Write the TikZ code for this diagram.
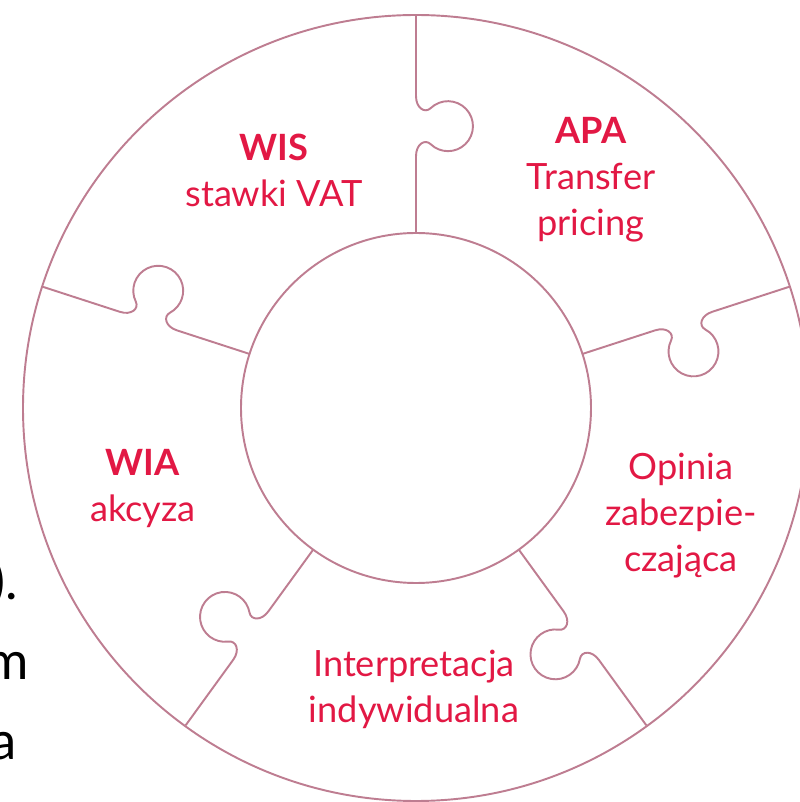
\documentclass[tikz,border=0pt]{standalone}
\usepackage{fontspec}
\setmainfont{Lato}
\definecolor{labelred}{RGB}{226,24,68}
\definecolor{ringline}{RGB}{190,125,145}
\begin{document}
\begin{tikzpicture}[inner sep=0pt,
    ringstyle/.style={draw=ringline, line width=0.55pt},
    labelstyle/.style={text=labelred, align=center, anchor=base,
        font=\fontsize{10.3}{13.1}\selectfont},
    pagestyle/.style={text=black, anchor=base east,
        font=\fontsize{15}{18}\selectfont}]

    \useasboundingbox (0,0) rectangle (8,8.02);
    \coordinate (c) at (4.16,3.94);

    \draw [ringstyle] (c) circle [radius=3.93];
    \draw [ringstyle] (c) circle [radius=1.75];

    \foreach \a in {18,90,162,234,306}
        \draw [ringstyle, shift={(c)}, rotate=\a, scale=0.01]
            (393,0) -- (312,0) .. controls (300,0) and (294.5,-8.9) .. (300,-14.65)
            arc [start angle=43.9, end angle=-223.9, radius=25]
            .. controls (269.5,-8.9) and (264,0) .. (252,0) -- (175,0);

    \node [labelstyle] (wis) at (2.74,5.95) {\textbf{WIS}\\stawki VAT};
    \node [labelstyle] (apa) at (5.91,5.66) {\textbf{APA}\\Transfer\\pricing};
    \node [labelstyle] (wia) at (1.43,2.80) {\textbf{WIA}\\akcyza};
    \node [labelstyle] (opinia) at (6.81,2.30) {Opinia\\zabezpie-\\czająca};
    \node [labelstyle] (interp) at (4.14,0.79) {Interpretacja\\indywidualna};

    \node [pagestyle] (frag1) at (0.19,2.02) {).};
    \node [pagestyle] (frag2) at (0.30,1.22) {m};
    \node [pagestyle] (frag3) at (0.17,0.42) {a};
\end{tikzpicture}
\end{document}
